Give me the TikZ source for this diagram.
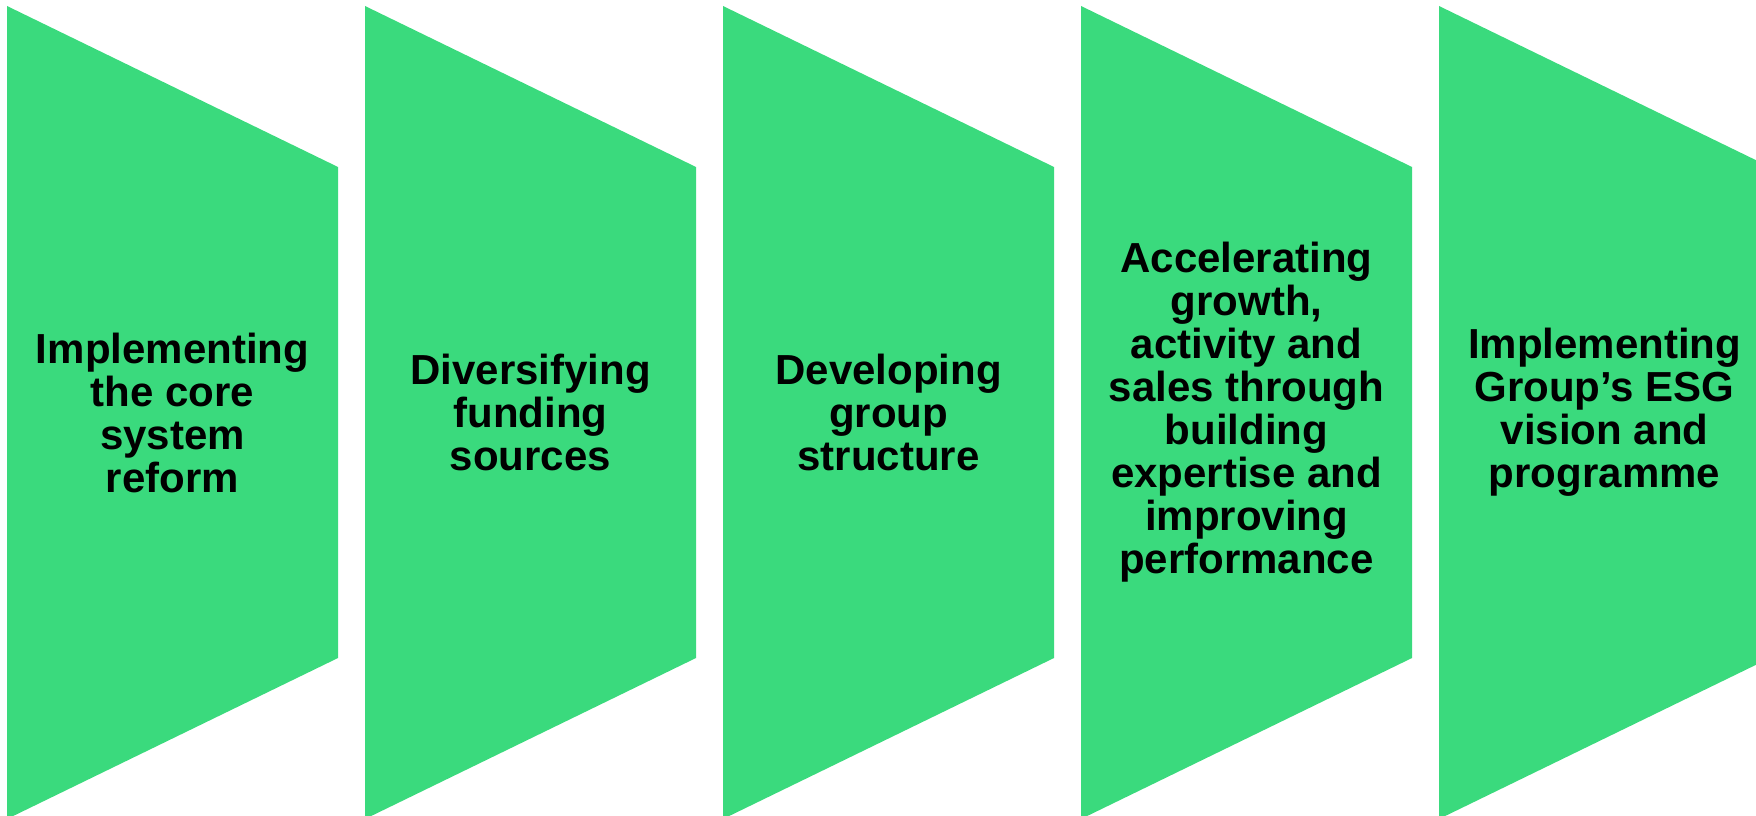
\documentclass[tikz,border=0pt]{standalone}
\usepackage{fontspec}
\setmainfont{Liberation Sans}
\definecolor{stagegreen}{RGB}{58,218,125}
\begin{document}
\begin{tikzpicture}[x=1pt,y=-1pt,
  stagefill/.style={fill=stagegreen},
  stagelabel/.style={align=center,font=\bfseries\fontsize{42}{43}\selectfont,text=black,inner sep=0pt}]
\useasboundingbox (0,0) rectangle (1756,816);
\clip (0,0) rectangle (1756,816);
\foreach \x in {7,365,723,1081,1439}{
  \fill[stagefill] (\x,6) -- (\x+331,167) -- (\x+331,658) -- (\x,819) -- cycle;
}
\node[stagelabel] (s1) at (172.5,412.5) {Implementing\\the core\\system\\reform};
\node[stagelabel] (s2) at (530.5,412.5) {Diversifying\\funding\\sources};
\node[stagelabel] (s3) at (888.5,412.5) {Developing\\group\\structure};
\node[stagelabel] (s4) at (1246.5,412.5) {Accelerating\\growth,\\activity and\\sales through\\building\\expertise and\\improving\\performance};
\node[stagelabel] (s5) at (1604.5,412.5) {Implementing\\Group’s ESG\\vision and\\programme};
\end{tikzpicture}
\end{document}
